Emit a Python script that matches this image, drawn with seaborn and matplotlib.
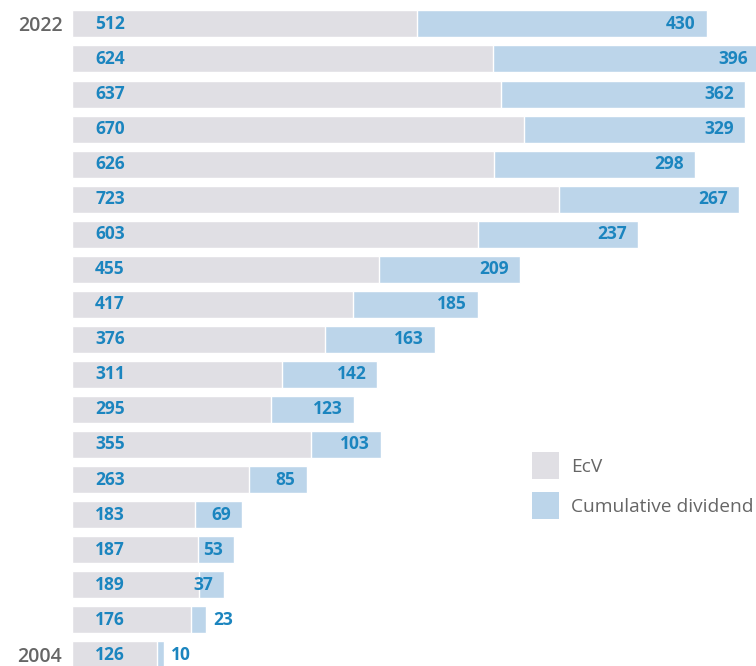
import matplotlib
matplotlib.use("Agg")
import matplotlib.pyplot as plt
from matplotlib.patches import Patch
import seaborn as sns
import pandas as pd

years = ["2022", "2021", "2020", "2019", "2018", "2017", "2016", "2015", "2014", "2013",
         "2012", "2011", "2010", "2009", "2008", "2007", "2006", "2005", "2004"]
ecv = [512, 624, 637, 670, 626, 723, 603, 455, 417, 376, 311, 295, 355, 263, 183, 187, 189, 176, 126]
dividend = [430, 396, 362, 329, 298, 267, 237, 209, 185, 163, 142, 123, 103, 85, 69, 53, 37, 23, 10]
shown_year_labels = ["2022", "2004"]
legend_labels = ["EcV", "Cumulative dividend"]

GRAY = "#e0dfe4"
BLUE = "#bcd5ea"
LABEL_BLUE = "#1b85bf"
TEXT_GRAY = "#666666"

df = pd.DataFrame({"year": years, "ecv": ecv, "dividend": dividend})
df["total"] = df["ecv"] + df["dividend"]

sns.set_theme(style="white")
plt.rcParams["font.family"] = ["Open Sans", "DejaVu Sans"]

W, H = 756, 666
fig = plt.figure(figsize=(W / 100, H / 100), dpi=100)
ax = fig.add_axes([72 / W, 0, 1 - 72 / W, 1 - 6.4 / H])

sns.barplot(data=df, x="total", y="year", order=years, color=BLUE, saturation=1,
            width=0.77, orient="h", ax=ax)
sns.barplot(data=df, x="ecv", y="year", order=years, color=GRAY, saturation=1,
            width=0.77, orient="h", ax=ax)

ax.set_xlim(0, 684 / 0.674)
ax.set_ylim(18.32, -0.5)

for i, row in df.iterrows():
    ax.annotate(f"{row['ecv']}", xy=(0, i), xytext=(16.6, 0), textcoords="offset points",
                ha="left", va="center", fontsize=12.5, fontweight="bold", color=LABEL_BLUE,
                annotation_clip=False)
    if row["dividend"] < 30:
        ax.annotate(f"{row['dividend']}", xy=(row["total"], i), xytext=(5.5, 0),
                    textcoords="offset points", ha="left", va="center",
                    fontsize=12.5, fontweight="bold", color=LABEL_BLUE, annotation_clip=False)
    else:
        ax.annotate(f"{row['dividend']}", xy=(row["total"], i), xytext=(-8, 0),
                    textcoords="offset points", ha="right", va="center",
                    fontsize=12.5, fontweight="bold", color=LABEL_BLUE, annotation_clip=False)

ax.set_yticks([years.index(y) for y in shown_year_labels])
ax.set_yticklabels(shown_year_labels, fontsize=14, fontweight="semibold", color=TEXT_GRAY)
ax.tick_params(axis="y", length=0, pad=7)
ax.set_xticks([])
ax.set_xlabel("")
ax.set_ylabel("")
sns.despine(ax=ax, left=True, bottom=True)

handles = [Patch(facecolor=GRAY, edgecolor="none"), Patch(facecolor=BLUE, edgecolor="none")]
leg = fig.legend(handles=handles, labels=legend_labels, loc="upper left",
                 bbox_to_anchor=(532 / W, 1 - 452 / H), frameon=False,
                 borderpad=0, borderaxespad=0, handlelength=1.41, handleheight=1.79,
                 handletextpad=0.63, labelspacing=0.68, prop={"size": 13.8})
for t in leg.get_texts():
    t.set_color(TEXT_GRAY)

fig.savefig("out.png", dpi=100)
